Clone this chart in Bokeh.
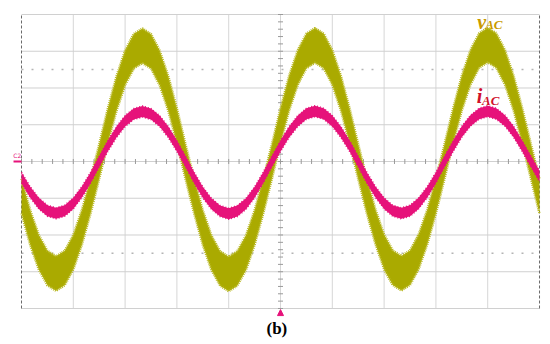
import numpy as np
from bokeh.plotting import figure
from bokeh.models import Label, Arrow, NormalHead, Range1d
from bokeh.embed import file_html
from bokeh.resources import INLINE

# ---- data (5 ms/div, values in divisions) ----
t_ms = [0, 0.83, 1.67, 2.5, 3.33, 4.17, 5, 5.83, 6.67, 7.5, 8.33, 9.17,
        10, 10.83, 11.67, 12.5, 13.33, 14.17, 15, 15.83, 16.67, 17.5, 18.33, 19.17,
        20, 20.83, 21.67, 22.5, 23.33, 24.17, 25, 25.83, 26.67, 27.5, 28.33, 29.17,
        30, 30.83, 31.67, 32.5, 33.33, 34.17, 35, 35.83, 36.67, 37.5, 38.33, 39.17,
        40, 40.83, 41.67, 42.5, 43.33, 44.17, 45, 45.83, 46.67, 47.5, 48.33, 49.17,
        50]

v_ac = [-0.94, -1.79, -2.47, -2.90, -3.05, -2.90, -2.47, -1.79, -0.94, 0.00,
        0.97, 1.85, 2.55, 3.00, 3.15, 3.00, 2.55, 1.85, 0.97, 0.00,
        -0.95, -1.80, -2.48, -2.91, -3.06, -2.91, -2.48, -1.80, -0.95, 0.00,
        0.97, 1.86, 2.56, 3.01, 3.16, 3.01, 2.56, 1.86, 0.97, 0.00,
        -0.94, -1.78, -2.46, -2.89, -3.04, -2.89, -2.46, -1.78, -0.94, 0.00,
        0.98, 1.86, 2.56, 3.02, 3.17, 3.02, 2.56, 1.86, 0.98, 0.00,
        -0.95]

i_ac = [-0.44, -0.83, -1.14, -1.34, -1.41, -1.34, -1.14, -0.83, -0.44, 0.00,
        0.42, 0.80, 1.10, 1.29, 1.36, 1.29, 1.10, 0.80, 0.42, 0.00,
        -0.44, -0.84, -1.15, -1.35, -1.42, -1.35, -1.15, -0.84, -0.44, 0.00,
        0.42, 0.80, 1.10, 1.30, 1.37, 1.30, 1.10, 0.80, 0.42, 0.00,
        -0.44, -0.83, -1.14, -1.34, -1.41, -1.34, -1.14, -0.83, -0.44, 0.00,
        0.42, 0.81, 1.11, 1.30, 1.37, 1.30, 1.11, 0.81, 0.42, 0.00,
        -0.40]

v_ripple = 0.47   # half band width of switching ripple on v_AC (div)
i_ripple = 0.15   # half band width of ripple on i_AC (div)

ms_per_div = 5.0
x_div = list(range(0, 11))      # 10 horizontal divisions
y_div = list(range(-4, 5))      # 8 vertical divisions
minor_x = [k / 5 for k in range(0, 51)]
minor_y = [k / 5 for k in range(-20, 21)]

OLIVE = "#aaaa00"
PINK = "#e6127a"

t = np.array(t_ms) / ms_per_div
v = np.array(v_ac)
i = np.array(i_ac)

# the frame covers the whole picture; the scope screen is the 10 x 8 div area
p = figure(width=550, height=344, output_backend="svg", toolbar_location=None,
           x_axis_type=None, y_axis_type=None,
           x_range=Range1d(-0.4054, 10.212), y_range=Range1d(-4.980, 4.381),
           min_border=0)
p.outline_line_color = None
p.background_fill_color = "white"
p.border_fill_color = "white"

x0, x1 = x_div[0], x_div[-1]
y0, y1 = y_div[0], y_div[-1]
inner_x = x_div[1:-1]
n = len(inner_x)
# vertical graticule lines
p.segment(x0=inner_x, x1=inner_x, y0=[y0] * n, y1=[y1] * n,
          line_color="#d6d6d6", line_width=1)
# horizontal graticule lines (incl. top/bottom edge)
m = len(y_div)
p.segment(x0=[x0] * m, x1=[x1] * m, y0=y_div, y1=y_div,
          line_color="#d0d0d0", line_width=1)
# dotted reference lines
p.segment(x0=[x0, x0], x1=[x1, x1], y0=[-2.5, 2.5], y1=[-2.5, 2.5],
          line_color="#b4b4b4", line_width=1.5, line_dash="2 8")
# left / right screen edges
p.segment(x0=[x0, x1], x1=[x0, x1], y0=[y0, y0], y1=[y1, y1],
          line_color="#6a6a6a", line_width=1, line_dash="3 2")

# centre-line minor ticks
p.scatter(x=minor_x, y=[0] * len(minor_x), marker="dash", angle=np.pi / 2, size=5,
          line_color="#9a9a9a", line_width=1)
p.scatter(x=[5] * len(minor_y), y=minor_y, marker="dash", size=5,
          line_color="#9a9a9a", line_width=1)

# waveforms
p.varea(x=t, y1=v - v_ripple, y2=v + v_ripple, fill_color=OLIVE)
p.line(t, v + v_ripple, line_color="#b8b820", line_width=2.5, line_dash="1 1")
p.line(t, v - v_ripple, line_color="#b8b820", line_width=2.5, line_dash="1 1")

p.varea(x=t, y1=i - i_ripple, y2=i + i_ripple, fill_color=PINK)
p.line(t, i + i_ripple, line_color=PINK, line_width=1.5, line_dash="1 2")
p.line(t, i - i_ripple, line_color=PINK, line_width=1.5, line_dash="1 2")

# labels
serif = "Liberation Serif"
p.add_layout(Label(x=8.80, y=3.80, text="v", text_font=serif, text_font_style="bold italic",
                   text_font_size="20px", text_color="#c99a00", text_baseline="middle"))
p.add_layout(Label(x=8.95, y=3.72, text="AC", text_font=serif, text_font_style="bold italic",
                   text_font_size="13px", text_color="#c99a00", text_baseline="middle"))
p.add_layout(Label(x=8.79, y=1.78, text="i", text_font=serif, text_font_style="bold italic",
                   text_font_size="20px", text_color="#d0102a", text_baseline="middle"))
p.add_layout(Label(x=8.89, y=1.66, text="AC", text_font=serif, text_font_style="bold italic",
                   text_font_size="13px", text_color="#d0102a", text_baseline="middle"))
p.add_layout(Label(x=4.93, y=-4.54, text="(b)", text_font=serif, text_font_style="bold",
                   text_font_size="17px", text_color="#000000", text_align="center",
                   text_baseline="middle"))
p.add_layout(Label(x=-0.16, y=0.15, text="C2", text_font="DejaVu Sans",
                   text_font_size="6px", text_color=PINK, text_baseline="middle"))
p.add_layout(Arrow(x_start=-0.154, y_start=0, x_end=0, y_end=0, line_color=PINK,
                   line_width=2, end=None))
p.add_layout(Arrow(x_start=5, y_start=-4.2, x_end=5, y_end=-4.03, line_alpha=0,
                   end=NormalHead(size=6, fill_color=PINK, line_color=PINK)))

open("out.html", "w").write(file_html(p, INLINE))
